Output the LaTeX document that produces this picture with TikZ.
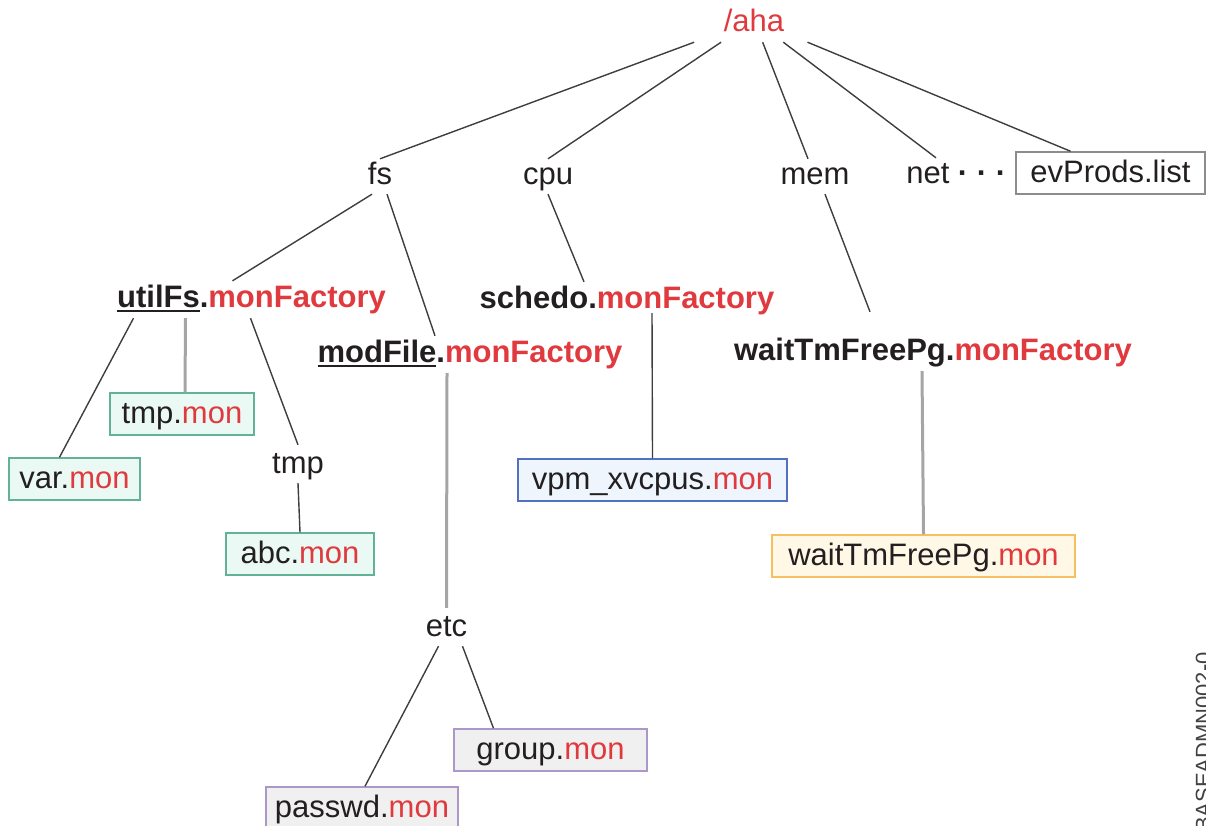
\documentclass[tikz,border=0pt]{standalone}
\usepackage{fontspec}
\setmainfont{Liberation Sans}
\usetikzlibrary{calc}
\definecolor{ahared}{RGB}{224,58,62}
\definecolor{ink}{RGB}{35,31,32}
\definecolor{linkdark}{RGB}{62,62,62}
\definecolor{linkgray}{RGB}{165,165,165}
\definecolor{tealdraw}{RGB}{98,178,152}
\definecolor{tealfill}{RGB}{234,249,244}
\definecolor{bluedraw}{RGB}{82,114,192}
\definecolor{bluefill}{RGB}{238,245,253}
\definecolor{orgdraw}{RGB}{246,192,96}
\definecolor{orgfill}{RGB}{255,248,230}
\definecolor{purdraw}{RGB}{172,150,202}
\definecolor{purfill}{RGB}{240,240,240}
\definecolor{evdraw}{RGB}{140,140,140}
\newcommand{\rd}[1]{\textcolor{ahared}{#1}}
\newcommand{\myul}[1]{\vtop{\hbox{#1}\kern3pt\hrule height 1.8pt}}
\tikzset{
  bigfont/.style={font=\fontsize{31}{37}\selectfont},
  lbl/.style={bigfont, inner xsep=2pt, inner ysep=3pt, text height=22pt, text depth=7pt, text=ink, anchor=base},
  flbl/.style={lbl, inner ysep=4pt, font=\fontsize{31}{37}\selectfont\bfseries},
  ahastyle/.style={bigfont, text=ahared, minimum width=120pt, minimum height=44pt, text height=22pt, text depth=0pt, inner sep=0pt, anchor=center},
  filebox/.style={bigfont, draw, line width=1.5pt, anchor=base, inner xsep=0pt, inner ysep=6pt, text height=24pt, text depth=6pt, text=ink},
  tealbox/.style={filebox, draw=tealdraw, fill=tealfill},
  bluebox/.style={filebox, draw=bluedraw, fill=bluefill},
  orgbox/.style={filebox, draw=orgdraw, fill=orgfill},
  purbox/.style={filebox, draw=purdraw, fill=purfill},
  plainbox/.style={filebox, draw=evdraw, fill=white},
  codestyle/.style={font=\fontsize{22}{26}\selectfont, text=ink!85, rotate=90, anchor=base east, inner sep=0pt},
  link/.style={draw=linkdark, line width=1.4pt},
  glink/.style={draw=linkgray, line width=3pt}
}
\begin{document}
\begin{tikzpicture}[x=1pt, y=-1pt]
\useasboundingbox (0,0) rectangle (1206,825);
% nodes
\node[ahastyle] (aha) at (754,20) {/aha};
\node[lbl] (fs) at (380,184) {fs};
\node[lbl] (cpu) at (548,184) {cpu};
\node[lbl] (mem) at (815,184) {mem};
\node[lbl] (net) at (928,183) {net};
\node[lbl, font=\fontsize{31}{37}\selectfont\bfseries] (dots) at (982,183) {· · ·};
\node[plainbox, minimum width=189pt] (ev) at (1110.5,182) {evProds.list};
\node[flbl] (ufs) at (251.5,307) {\myul{utilFs}.\rd{monFactory}};
\node[flbl] (sch) at (627,308) {schedo.\rd{monFactory}};
\node[flbl] (mf) at (470,362) {\myul{modFile}.\rd{monFactory}};
\node[flbl] (wf) at (933,360) {waitTmFreePg.\rd{monFactory}};
\node[tealbox, minimum width=144pt] (tmpm) at (182,423) {tmp.\rd{mon}};
\node[tealbox, minimum width=131pt] (var) at (74.5,488) {var.\rd{mon}};
\node[lbl] (tmpd) at (298,473) {tmp};
\node[tealbox, minimum width=148pt] (abc) at (300,563) {abc.\rd{mon}};
\node[bluebox, minimum width=269pt] (vpm) at (652.5,489) {vpm\_xvcpus.\rd{mon}};
\node[orgbox, minimum width=303pt] (wfm) at (923.5,565) {waitTmFreePg.\rd{mon}};
\node[lbl] (etc) at (446.5,636) {etc};
\node[purbox, minimum width=193pt] (grp) at (550.5,759) {group.\rd{mon}};
\node[purbox, minimum width=192pt] (pwd) at (362,817) {passwd.\rd{mon}};
\node[codestyle] (code) at (1211,652) {BASEADMN002-0};
% connectors
\draw[link] (aha) -- (fs.north);
\draw[link] (aha) -- (cpu.north);
\draw[link] (aha) -- ([xshift=-7pt]mem.north);
\draw[link] (aha) -- ([xshift=8pt]net.north);
\draw[link] (aha) -- ([xshift=-40pt]ev.north);
\draw[link] ([xshift=-8pt]fs.south) -- ([xshift=-19pt]ufs.north);
\draw[link] ([xshift=7pt]fs.south) -- ([xshift=-35pt]mf.north);
\draw[link] (cpu.south) -- ([xshift=-43pt]sch.north);
\draw[link] ([xshift=10pt]mem.south) -- ([xshift=-63pt,yshift=22pt]wf.north);
\draw[link] ([xshift=-118pt]ufs.south) -- ([xshift=-15pt]var.north);
\draw[glink] ([xshift=-66pt]ufs.south) -- ([xshift=3pt]tmpm.north);
\draw[link] ([xshift=-1pt]ufs.south) -- ([yshift=3pt]tmpd.north);
\draw[link] (tmpd.south) -- (abc.north);
\draw[glink] ([xshift=-23pt]mf.south) -- ([yshift=3pt]etc.north);
\draw[link] ([xshift=25pt,yshift=6pt]sch.south) -- (vpm.north);
\draw[glink] ([xshift=-11pt]wf.south) -- (wfm.north);
\draw[link] ([xshift=-8pt]etc.south) -- ([xshift=3pt]pwd.north);
\draw[link] ([xshift=16pt]etc.south) -- ([xshift=-57pt]grp.north);
\end{tikzpicture}
\end{document}
